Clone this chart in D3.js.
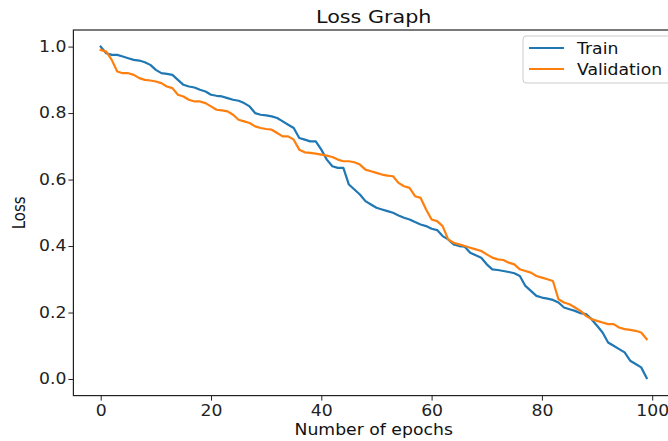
<!DOCTYPE html>
<html lang="en">
<head>
<meta charset="UTF-8">
<title>Loss Graph</title>
<script src="https://d3js.org/d3.v7.min.js"></script>
<style>
  body { margin: 0; background: #fff; }
  svg { display: block; font-family: "DejaVu Sans", sans-serif; }
</style>
</head>
<body>
<script>
// values
const trainLoss = [
  1.0, 0.98, 0.975, 0.975, 0.97, 0.965, 0.96, 0.958, 0.953, 0.945,
  0.93, 0.92, 0.918, 0.915, 0.9, 0.885, 0.88, 0.877, 0.87, 0.865,
  0.855, 0.852, 0.85, 0.845, 0.84, 0.837, 0.83, 0.82, 0.8, 0.795,
  0.793, 0.79, 0.785, 0.775, 0.765, 0.755, 0.725, 0.72, 0.715, 0.715,
  0.69, 0.66, 0.64, 0.635, 0.635, 0.585, 0.57, 0.555, 0.535, 0.525,
  0.515, 0.51, 0.505, 0.5, 0.492, 0.485, 0.48, 0.472, 0.465, 0.46,
  0.452, 0.448, 0.43, 0.42, 0.405, 0.4, 0.398, 0.38, 0.372, 0.365,
  0.345, 0.33, 0.328, 0.325, 0.322, 0.318, 0.31, 0.28, 0.265, 0.25,
  0.245, 0.242, 0.238, 0.23, 0.215, 0.21, 0.205, 0.198, 0.195, 0.18,
  0.16, 0.14, 0.11, 0.1, 0.09, 0.08, 0.055, 0.045, 0.035, 0.003
];
const valLoss = [
  0.99, 0.985, 0.96, 0.925, 0.92, 0.92, 0.915, 0.905, 0.9, 0.898,
  0.895, 0.89, 0.88, 0.875, 0.855, 0.85, 0.84, 0.835, 0.835, 0.83,
  0.82, 0.81, 0.808, 0.805, 0.795, 0.78, 0.775, 0.77, 0.76, 0.755,
  0.752, 0.75, 0.74, 0.73, 0.73, 0.72, 0.69, 0.682, 0.68, 0.678,
  0.675, 0.672, 0.668, 0.66, 0.655, 0.655, 0.652, 0.645, 0.63, 0.625,
  0.62, 0.615, 0.612, 0.61, 0.59, 0.58, 0.575, 0.55, 0.545, 0.51,
  0.48, 0.475, 0.46, 0.42, 0.41, 0.405, 0.4, 0.395, 0.39, 0.385,
  0.375, 0.365, 0.36, 0.358, 0.35, 0.345, 0.33, 0.325, 0.32, 0.31,
  0.305, 0.3, 0.295, 0.24, 0.23, 0.225, 0.215, 0.205, 0.19, 0.18,
  0.175, 0.17, 0.165, 0.165, 0.155, 0.15, 0.148, 0.145, 0.14, 0.12
];
const seriesNames = ["Train", "Validation"];
const seriesColors = ["#1f77b4", "#ff7f0e"];
const xTicks = [0, 20, 40, 60, 80, 100];
const yTicks = [0.0, 0.2, 0.4, 0.6, 0.8, 1.0];

const w = 668, h = 441;
const pLeft = 73.4, pRight = 674, pTop = 30, pBottom = 395.6;
const sx = 1.15; // the picture is a bit wider than tall, so text is stretched

const svg = d3.select("body").append("svg")
  .attr("width", w).attr("height", h);

const x = d3.scaleLinear().domain([-4.95, 103.95]).range([pLeft, pRight]);
const y = d3.scaleLinear().domain([-0.0499, 1.0499]).range([pBottom, pTop]);

const xAxis = d3.axisBottom(x).tickValues(xTicks).tickSize(5).tickPadding(5).tickFormat(d3.format("d"));
const yAxis = d3.axisLeft(y).tickValues(yTicks).tickSize(5).tickPadding(5).tickFormat(d3.format(".1f"));

const gx = svg.append("g").attr("transform", "translate(0," + pBottom + ")").call(xAxis);
const gy = svg.append("g").attr("transform", "translate(" + pLeft + ",0)").call(yAxis);
[gx, gy].forEach(g => {
  g.select(".domain").remove();
  g.selectAll("line").attr("stroke", "#222").attr("stroke-width", 1);
  g.selectAll("text").attr("fill", "#222").style("font-size", "15px").style("font-family", "DejaVu Sans");
});
gx.selectAll("text").attr("transform", "scale(" + sx + ",1)");
gy.selectAll("text").attr("x", -7 / sx).attr("transform", "scale(" + sx + ",1)");

// frame
svg.append("rect")
  .attr("x", pLeft).attr("y", pTop)
  .attr("width", pRight - pLeft).attr("height", pBottom - pTop)
  .attr("fill", "none").attr("stroke", "#222").attr("stroke-width", 1.2);

const line = d3.line().x((d, i) => x(i)).y(d => y(d));
[trainLoss, valLoss].forEach((s, k) => {
  svg.append("path")
    .datum(s)
    .attr("d", line)
    .attr("fill", "none")
    .attr("stroke", seriesColors[k])
    .attr("stroke-width", 2.2)
    .attr("stroke-linejoin", "round")
    .attr("stroke-linecap", "square");
});

svg.append("text")
  .attr("transform", "translate(" + ((pLeft + pRight) / 2) + ",23) scale(" + sx + ",1)")
  .attr("text-anchor", "middle")
  .style("font-size", "18px").attr("fill", "#111")
  .text("Loss Graph");

svg.append("text")
  .attr("transform", "translate(" + ((pLeft + pRight) / 2) + ",435) scale(" + sx + ",1)")
  .attr("text-anchor", "middle")
  .style("font-size", "15px").attr("fill", "#111")
  .text("Number of epochs");

svg.append("text")
  .attr("transform", "translate(25," + ((pTop + pBottom) / 2) + ") scale(" + sx + ",1) rotate(-90)")
  .attr("text-anchor", "middle")
  .style("font-size", "15px").attr("fill", "#111")
  .text("Loss");

// legend
const lg = svg.append("g").attr("transform", "translate(523,36)");
lg.append("rect")
  .attr("width", 160).attr("height", 47).attr("rx", 3)
  .attr("fill", "#fff").attr("fill-opacity", 0.8)
  .attr("stroke", "#ccc");
seriesNames.forEach((name, k) => {
  const yy = 12 + k * 21;
  lg.append("line")
    .attr("x1", 6).attr("x2", 41).attr("y1", yy).attr("y2", yy)
    .attr("stroke", seriesColors[k]).attr("stroke-width", 2.2);
  lg.append("text")
    .attr("transform", "translate(54," + (yy + 5.5) + ") scale(" + sx + ",1)")
    .style("font-size", "15px").attr("fill", "#111")
    .text(name);
});
</script>
</body>
</html>
